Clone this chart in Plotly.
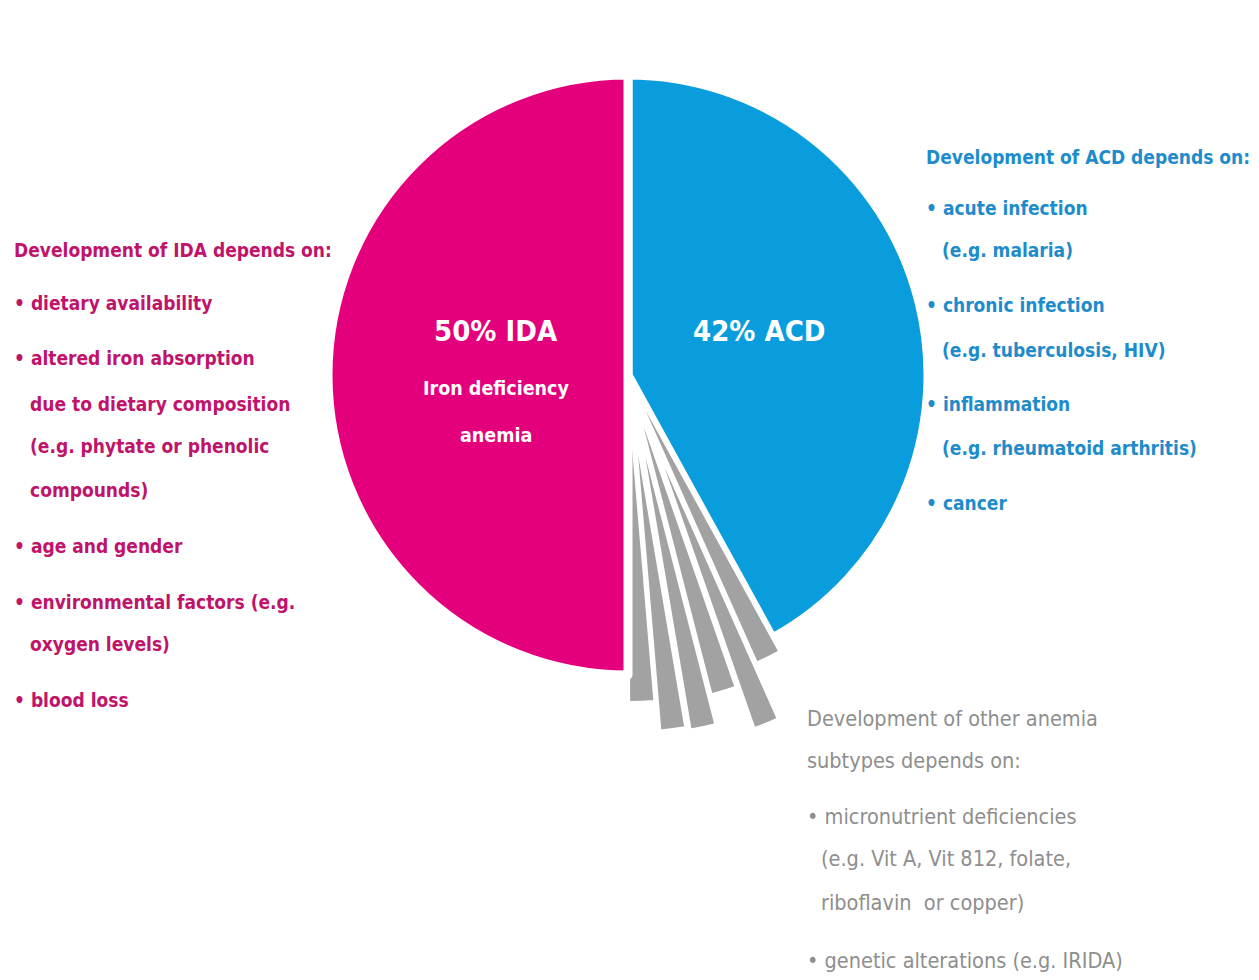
import plotly.graph_objects as go

W, H = 1259, 980

# ---- data ----
slice_labels = ["ACD", "Other 1", "Other 2", "Other 3", "Other 4", "Other 5", "Other 6", "IDA"]
slice_values = [42, 1.33, 1.33, 1.33, 1.34, 1.33, 1.34, 50]
slice_pulls = [0.0, 0.05, 0.25, 0.10, 0.20, 0.19, 0.09, 0.0]
slice_colors = ["#0A9DDE", "#A2A2A2", "#A2A2A2", "#A2A2A2", "#A2A2A2", "#A2A2A2", "#A2A2A2", "#E4007D"]
slice_line_widths = [9, 2, 2, 2, 2, 2, 2, 9]

ida_title = "50% IDA"
ida_sub = ["Iron deficiency", "anemia"]
acd_title = "42% ACD"

ida_lines = ["Development of IDA depends on:", "• dietary availability", "• altered iron absorption",
             "due to dietary composition", "(e.g. phytate or phenolic", "compounds)",
             "• age and gender", "• environmental factors (e.g.", "oxygen levels)", "• blood loss"]
acd_lines = ["Development of ACD depends on:", "• acute infection", "(e.g. malaria)",
             "• chronic infection", "(e.g. tuberculosis, HIV)", "• inflammation",
             "(e.g. rheumatoid arthritis)", "• cancer"]
other_lines = ["Development of other anemia", "subtypes depends on:", "• micronutrient deficiencies",
               "(e.g. Vit A, Vit 812, folate,", "riboflavin  or copper)", "• genetic alterations (e.g. IRIDA)"]

# ---- layout (pixel positions of text lines) ----
ida_y = [250, 303, 358, 404, 446, 490, 546, 602, 644, 700]
acd_y = [157, 208, 250, 305, 350, 404, 448, 503]
other_y = [718, 760, 816, 858, 902, 960]

FONT = "DejaVu Sans Condensed, Liberation Sans Narrow, sans-serif"
C_IDA_TXT = "#C0136A"
C_ACD_TXT = "#1E8CCB"
C_OTH_TXT = "#8E8E8E"

# pie geometry: center (628, 375) px, domain sized so that radius ~300 px with max pull 0.25
cx, cy, half = 628, 375, 375
fig = go.Figure(go.Pie(
    labels=slice_labels, values=slice_values, pull=slice_pulls,
    sort=False, direction="clockwise", rotation=0,
    marker=dict(colors=slice_colors, line=dict(color="white", width=slice_line_widths)),
    textinfo="none", hoverinfo="label+value", showlegend=False,
    domain=dict(x=[(cx - half) / W, (cx + half) / W], y=[1 - (cy + half) / H, 1 - (cy - half) / H]),
))


def px(x):
    return x / W


def py(y):
    return 1 - y / H


ann = []


def add_block(lines, ys, x_head, x_bullet, x_cont, color, weight, size, n_head=1):
    for i, (t, y) in enumerate(zip(lines, ys)):
        if i < n_head:
            x = x_head
        elif t.startswith("•"):
            x = x_bullet
        else:
            x = x_cont
        ann.append(dict(text=t, x=px(x), y=py(y), xref="paper", yref="paper",
                        xanchor="left", yanchor="middle", showarrow=False,
                        font=dict(family=FONT, size=size, color=color, weight=weight)))


add_block(ida_lines, ida_y, 12, 12, 28, C_IDA_TXT, "bold", 19)
add_block(acd_lines, acd_y, 924, 924, 940, C_ACD_TXT, "bold", 19)
add_block(other_lines, other_y, 805, 805, 819, C_OTH_TXT, "normal", 21.5, n_head=2)

# labels inside slices
ann.append(dict(text=ida_title, x=px(496), y=py(331), xref="paper", yref="paper", showarrow=False,
                font=dict(family=FONT, size=29, color="white", weight="bold")))
for t, y in zip(ida_sub, [388, 435]):
    ann.append(dict(text=t, x=px(496), y=py(y), xref="paper", yref="paper", showarrow=False,
                    font=dict(family=FONT, size=19.5, color="white", weight="bold")))
ann.append(dict(text=acd_title, x=px(759), y=py(331), xref="paper", yref="paper", showarrow=False,
                font=dict(family=FONT, size=29, color="white", weight="bold")))

fig.update_layout(width=W, height=H, margin=dict(l=0, r=0, t=0, b=0),
                  paper_bgcolor="white", plot_bgcolor="white", annotations=ann)

fig.write_html("out.html")
